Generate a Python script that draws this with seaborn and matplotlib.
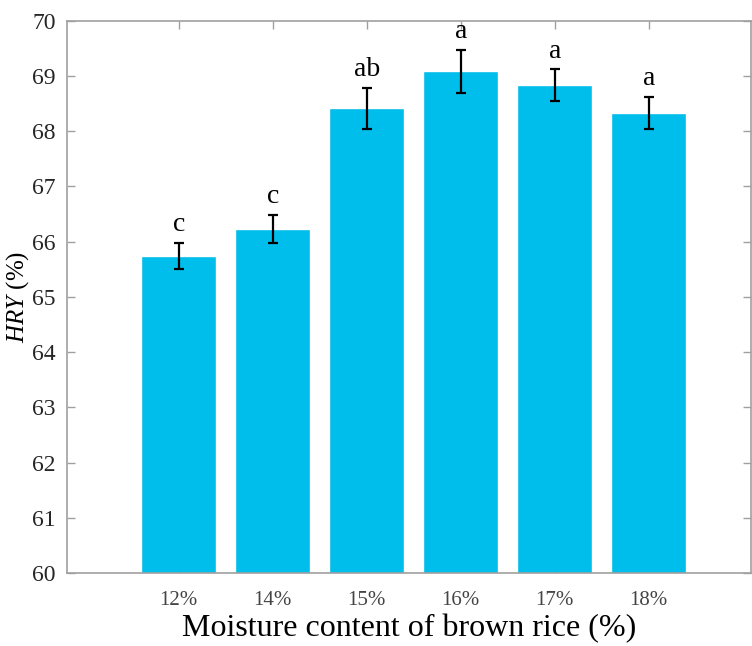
import pandas as pd
import matplotlib.pyplot as plt
import seaborn as sns

# data
moisture = ["12%", "14%", "15%", "16%", "17%", "18%"]
hry = [65.74, 66.23, 68.41, 69.08, 68.83, 68.33]
hry_err = [0.24, 0.26, 0.38, 0.39, 0.29, 0.29]
letters = ["c", "c", "ab", "a", "a", "a"]

df = pd.DataFrame({"Moisture": moisture, "HRY": hry})

sns.set_theme(style="white")
plt.rcParams["font.family"] = ["Liberation Serif", "DejaVu Serif"]
plt.rcParams["mathtext.fontset"] = "custom"
plt.rcParams["mathtext.rm"] = "Liberation Serif"
plt.rcParams["mathtext.it"] = "Liberation Serif:italic"

fig = plt.figure(figsize=(7.52, 6.46), dpi=100)
ax = fig.add_axes([0.089, 0.113, 0.91, 0.855])

sns.barplot(data=df, x="Moisture", y="HRY", color="#00BEEB", saturation=1,
            width=0.8, errorbar=None, ax=ax)
ax.errorbar(range(len(hry)), hry, yerr=hry_err, fmt="none", ecolor="black",
            elinewidth=1.6, capsize=3.3, capthick=1.6, zorder=3)

# significance letters above error bars
for i, (v, e, t) in enumerate(zip(hry, hry_err, letters)):
    ax.annotate(t, (i, v + e), xytext=(0, 4), textcoords="offset points",
                ha="center", va="bottom", fontsize=20, color="black")

ax.set_ylim(60, 70)
ax.set_xlim(-1.19, 6.09)
ax.set_yticks(range(60, 71))

ax.set_axisbelow(True)
for s in ax.spines.values():
    s.set_color("#a0a0a0")
    s.set_linewidth(1.2)
ax.tick_params(axis="both", direction="in", length=6, width=1.0, color="#a0a0a0",
               top=True, right=True, bottom=True, left=True)
ax.tick_params(axis="y", labelsize=17, labelcolor="#262626", pad=8)
ax.tick_params(axis="x", labelsize=15, labelcolor="#444444", pad=13)

ax.set_xlabel("Moisture content of brown rice (%)", fontsize=23, color="black", labelpad=3)
ax.set_ylabel("$HRY$ (%)", fontsize=18, color="black")
ax.yaxis.set_label_coords(-0.053, 0.5)

plt.savefig("out.png", dpi=100)
